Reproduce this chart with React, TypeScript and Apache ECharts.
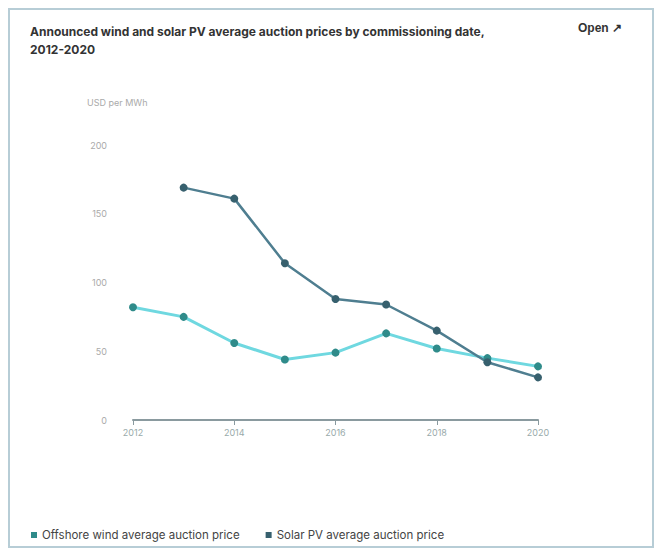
import React, { useEffect, useRef } from "react";
import * as echarts from "echarts";

const years = ["2012", "2013", "2014", "2015", "2016", "2017", "2018", "2019", "2020"];
const offshoreWind = [82, 75, 56, 44, 49, 63, 52, 45, 39];
const solarPV: (number | null)[] = [null, 169, 161, 114, 88, 84, 65, 42, 31];
const yTicks = { min: 0, max: 200, interval: 50 };

const titleText = "Announced wind and solar PV average auction prices by commissioning date,\n2012-2020";

export default function App() {
  const ref = useRef<HTMLDivElement>(null);
  useEffect(() => {
    if (!ref.current) return;
    const chart = echarts.init(ref.current, null, { renderer: "svg" });
    chart.setOption({
      animation: false,
      backgroundColor: "#ffffff",
      textStyle: { fontFamily: "Inter, 'Noto Sans', sans-serif" },
      title: {
        text: titleText,
        left: 25,
        top: 17,
        textStyle: { fontSize: 12, fontWeight: "bold", color: "#333", lineHeight: 18 },
      },
      graphic: [
        {
          type: "rect",
          shape: { x: 9, y: 9, width: 644, height: 538 },
          style: { fill: "none", stroke: "#b7cdd6", lineWidth: 2 },
        },
        {
          type: "text",
          left: 578,
          top: 22,
          style: { text: "Open ↗", fontSize: 12, fontWeight: "bold", fill: "#333" },
        },
      ],
      legend: {
        left: 26,
        top: 527,
        padding: [2, 5, 2, 5],
        icon: "rect",
        itemWidth: 6,
        itemHeight: 6,
        itemGap: 26,
        textStyle: { fontSize: 11.5, color: "#444" },
        data: ["Offshore wind average auction price", "Solar PV average auction price"],
      },
      grid: { left: 133, right: 124, top: 145, bottom: 129 },
      xAxis: {
        type: "category",
        data: years,
        boundaryGap: false,
        axisLine: { lineStyle: { color: "#8a9a9f", width: 2 } },
        axisTick: { interval: 1, length: 5, lineStyle: { color: "#8a9a9f" } },
        axisLabel: { interval: 1, fontSize: 9, color: "#9aa", margin: 8 },
      },
      yAxis: {
        type: "value",
        ...yTicks,
        name: "USD per MWh",
        nameLocation: "end",
        nameGap: 38,
        nameTextStyle: { fontSize: 9, color: "#aaa", align: "left", padding: [0, 0, 0, -46] },
        axisLine: { show: false },
        axisTick: { show: false },
        splitLine: { show: false },
        axisLabel: { fontSize: 9, color: "#aaa", margin: 26 },
      },
      series: [
        {
          name: "Offshore wind average auction price",
          type: "line",
          data: offshoreWind,
          symbol: "circle",
          symbolSize: 8,
          lineStyle: { color: "#6fd8e0", width: 3 },
          itemStyle: { color: "#2f8b8a" },
        },
        {
          name: "Solar PV average auction price",
          type: "line",
          data: solarPV,
          symbol: "circle",
          symbolSize: 8,
          lineStyle: { color: "#4f7e90", width: 2.5 },
          itemStyle: { color: "#37606e" },
        },
      ],
    });
    return () => chart.dispose();
  }, []);
  return <div ref={ref} style={{ width: 662, height: 549, position: "absolute", left: 0, top: 0 }} />;
}
